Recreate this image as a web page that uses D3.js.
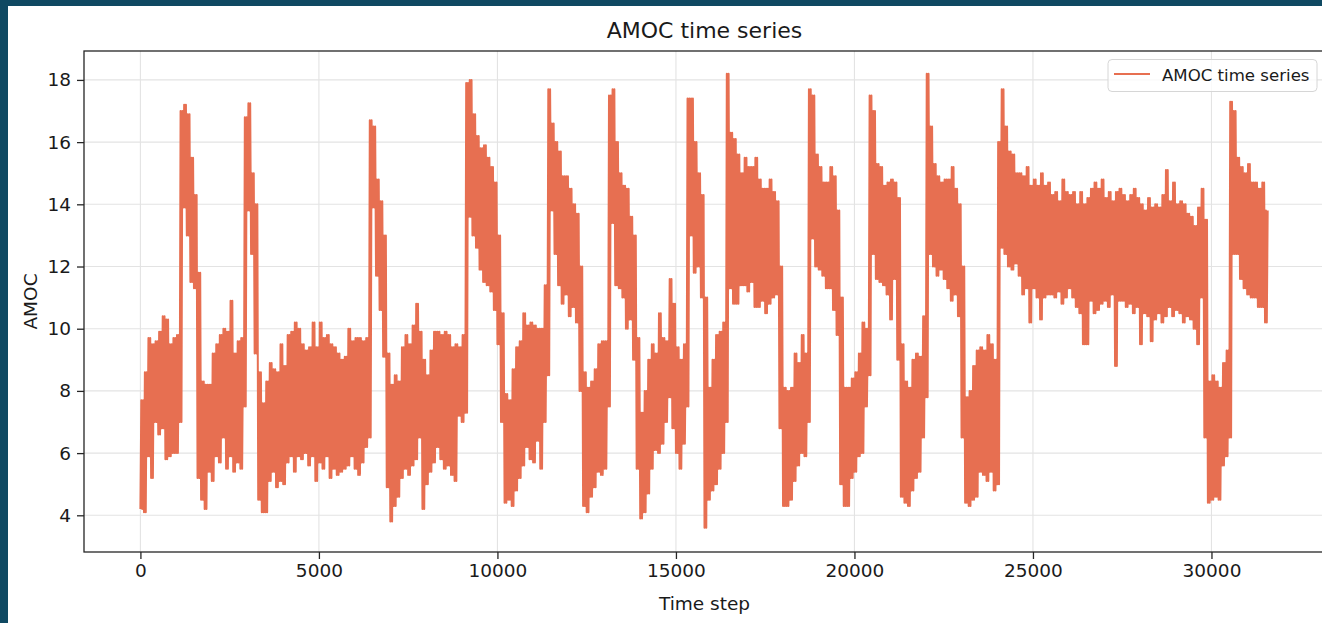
<!DOCTYPE html>
<html>
<head>
<meta charset="utf-8">
<script src="https://cdn.jsdelivr.net/npm/d3@7"></script>
<style>
  html, body { margin: 0; padding: 0; background: #0f4962; }
  svg { display: block; }
  text { font-family: "DejaVu Sans", sans-serif; fill: #1a1a1a; }
</style>
</head>
<body>
<svg id="chart" width="1322" height="623"></svg>
<script>
// AMOC series summarised per block of 100 time steps: lower and upper envelope
const BLOCK = 100;
const amocLow = [
  4.2,4.1,5.9,5.2,7.0,6.6,6.8,5.8,5.9,6.0, 6.0,7.0,13.9,13.0,11.5,11.3,5.2,4.5,4.2,5.4,
  5.1,5.9,5.7,6.5,5.5,5.9,5.4,5.7,5.5,7.5, 13.8,12.4,9.2,4.5,4.1,4.1,5.1,5.4,4.9,5.1,
  5.0,5.7,5.9,5.4,5.9,5.8,6.0,5.6,5.9,5.1, 5.7,5.5,5.9,5.2,5.5,5.3,5.4,5.5,5.6,5.9,
  5.5,5.3,5.7,6.2,6.5,13.9,11.7,10.6,9.1,4.9, 3.8,4.3,4.6,5.2,5.5,5.3,5.6,5.8,6.5,4.2,
  5.0,5.4,5.7,6.2,5.8,5.5,5.6,5.3,5.1,7.2, 7.0,7.3,13.6,13.0,12.6,11.9,11.5,11.4,11.2,10.6,
  9.5,7.0,4.4,4.5,4.3,4.8,5.2,5.6,6.2,5.8, 5.7,6.4,5.5,7.0,8.5,13.8,12.4,11.4,10.8,11.1,
  10.4,10.7,10.2,8.0,4.3,4.1,4.6,4.9,5.4,5.3, 5.5,7.5,13.4,11.4,11.3,11.0,10.0,10.3,9.0,5.5,
  3.9,4.1,4.7,5.5,6.1,6.0,6.3,7.0,7.8,6.8, 6.0,5.5,6.3,7.5,13.0,11.8,12.0,11.0,3.6,4.5,
  4.8,5.0,5.5,6.0,7.0,11.3,10.8,10.8,11.4,11.4, 11.2,11.5,10.7,10.7,10.9,10.5,10.8,11.0,11.1,6.8,
  4.3,4.3,4.5,5.1,5.6,6.0,5.9,7.0,12.9,12.0, 11.9,11.7,11.3,11.3,10.6,9.8,5.0,4.3,4.3,5.2,
  5.4,5.9,6.0,7.5,8.5,12.4,11.6,11.5,11.4,11.1, 10.3,11.6,9.0,4.6,4.4,4.3,4.8,5.2,5.4,6.5,
  7.8,12.4,12.0,11.7,11.9,11.6,11.3,10.9,11.1,10.4, 6.5,4.4,4.3,4.5,4.6,5.4,5.3,5.1,5.4,4.8,
  5.0,12.6,12.4,12.0,11.9,12.1,11.7,11.1,11.3,10.2, 11.3,11.0,10.3,11.0,11.1,11.1,11.0,11.2,10.8,11.0,
  11.3,11.0,10.7,10.5,9.5,9.5,10.9,10.5,10.6,10.8, 10.9,10.7,11.1,8.8,10.9,10.9,10.7,10.8,10.5,10.7,
  9.5,10.5,10.4,9.6,10.3,10.5,10.2,10.4,10.7,10.4, 10.6,10.5,10.2,10.4,10.3,10.0,9.5,11.0,6.5,4.4,
  4.5,4.6,4.5,5.6,5.9,6.5,12.4,12.4,11.6,11.3, 11.1,11.0,11.0,10.7,10.7,10.2
];
const amocHigh = [
  7.7,8.6,9.7,9.5,9.6,9.9,10.4,10.3,9.5,9.7, 9.8,17.0,17.2,16.9,15.5,14.3,11.8,8.3,8.2,8.2,
  9.2,9.5,9.8,10.0,9.9,10.9,9.2,9.6,9.7,16.8, 17.25,15.0,14.0,8.6,7.6,8.3,8.9,8.7,8.6,9.5,
  8.8,9.8,9.9,10.2,10.0,9.5,9.3,9.4,10.2,9.4, 10.2,9.7,9.8,9.5,9.4,9.2,9.0,9.1,10.0,9.6,
  9.7,9.7,9.6,9.7,16.7,16.5,14.8,14.1,13.0,9.2, 8.2,8.5,8.3,9.4,9.8,9.5,10.1,10.8,9.9,9.0,
  8.5,9.3,9.9,9.9,9.8,9.9,9.8,9.4,9.5,9.4, 9.8,17.9,18.0,16.9,16.2,15.8,15.9,15.5,15.2,14.7,
  13.0,10.5,7.9,7.7,8.7,9.4,9.6,10.5,10.1,10.2, 10.1,10.0,10.0,11.4,17.7,16.6,16.0,15.7,14.9,14.9,
  14.5,14.0,13.7,12.0,8.6,8.1,8.3,8.7,9.5,9.6, 9.6,17.5,17.7,16.0,15.0,14.6,14.5,13.6,13.0,9.7,
  7.3,8.0,9.0,9.5,9.2,10.5,9.7,9.6,11.6,10.8, 9.4,9.0,9.5,17.4,17.4,16.0,15.0,14.3,11.0,8.1,
  9.0,9.8,9.9,10.2,18.2,16.3,16.1,15.6,15.0,15.5, 15.2,15.2,15.5,14.8,14.5,14.5,14.8,14.4,14.1,12.0,
  8.1,8.0,8.1,9.2,8.9,9.8,9.2,17.7,17.5,15.6, 15.2,14.7,14.7,15.2,14.9,13.8,11.0,8.1,8.1,8.4,
  8.6,9.2,10.2,10.0,17.5,17.0,15.3,15.2,14.6,14.7, 14.8,14.7,14.2,9.5,8.3,8.1,9.0,9.2,9.1,10.4,
  18.2,16.5,15.3,14.9,14.7,14.8,14.8,15.2,14.5,14.0, 12.0,7.8,8.0,8.8,9.3,9.4,9.3,9.8,9.5,9.0,
  16.0,17.7,16.5,15.7,15.6,15.0,15.0,14.9,15.2,14.6, 14.8,14.6,15.0,14.6,14.7,14.3,14.4,14.1,14.8,14.4,
  14.3,14.4,14.0,14.4,14.0,14.2,14.5,14.7,14.5,14.8, 14.2,14.4,14.1,14.4,14.5,14.3,14.1,14.3,14.5,14.2,
  14.0,13.8,14.2,13.9,14.0,13.9,14.3,15.1,14.1,14.7, 14.0,14.1,14.0,13.7,13.6,13.3,13.9,14.5,13.5,8.3,
  8.5,8.3,8.1,8.9,9.3,17.3,17.0,15.5,15.2,15.0, 15.3,14.7,14.7,14.5,14.7,13.8
];
const xTicks = [0, 5000, 10000, 15000, 20000, 25000, 30000];
const yTicks = [4, 6, 8, 10, 12, 14, 16, 18];
const seriesName = "AMOC time series";

// Each block is traced as a dense zig-zag between its two envelope values
const points = [];
amocLow.forEach((lo, i) => {
  const t = i * BLOCK, hi = amocHigh[i];
  points.push([t, lo], [t + BLOCK / 4, hi], [t + BLOCK / 2, lo], [t + 3 * BLOCK / 4, hi]);
});

const svg = d3.select("#chart");
// white canvas inside the dark frame
svg.append("rect").attr("x", 8).attr("y", 6).attr("width", 1314).attr("height", 617).attr("fill", "#ffffff");

const L = 84, R = 1325, T = 51, B = 552;
const x = d3.scaleLinear().domain([-1580, 33180]).range([L, R]);
const y = d3.scaleLinear().domain([2.82, 18.93]).range([B, T]);

// grid
const grid = svg.append("g").attr("stroke", "#e3e3e3").attr("stroke-width", 1.1);
xTicks.forEach(v => grid.append("line").attr("x1", x(v)).attr("x2", x(v)).attr("y1", T).attr("y2", B));
yTicks.forEach(v => grid.append("line").attr("x1", L).attr("x2", R).attr("y1", y(v)).attr("y2", y(v)));

// series
const line = d3.line().x(d => x(d[0])).y(d => y(d[1]));
svg.append("path").datum(points).attr("d", line)
  .attr("fill", "none").attr("stroke", "#e76f51").attr("stroke-width", 2)
  .attr("stroke-linejoin", "round");

// axes
const xAxis = d3.axisBottom(x).tickValues(xTicks).tickFormat(d3.format("d")).tickSize(7).tickPadding(5);
const yAxis = d3.axisLeft(y).tickValues(yTicks).tickFormat(d3.format("d")).tickSize(7).tickPadding(6);
const gx = svg.append("g").attr("transform", `translate(0,${B})`).call(xAxis);
const gy = svg.append("g").attr("transform", `translate(${L},0)`).call(yAxis);
[gx, gy].forEach(g => {
  g.select(".domain").remove();
  g.selectAll(".tick line").attr("stroke", "#262626").attr("stroke-width", 1.3);
  g.selectAll(".tick text").attr("font-size", 18.5).attr("font-family", "DejaVu Sans").attr("fill", "#1a1a1a");
});

// frame
svg.append("rect").attr("x", L).attr("y", T).attr("width", R - L).attr("height", B - T)
  .attr("fill", "none").attr("stroke", "#262626").attr("stroke-width", 1.3);

// titles
svg.append("text").attr("x", (L + R) / 2).attr("y", 38).attr("text-anchor", "middle")
  .attr("font-size", 22).text("AMOC time series");
svg.append("text").attr("x", (L + R) / 2).attr("y", 610).attr("text-anchor", "middle")
  .attr("font-size", 18.5).text("Time step");
svg.append("text").attr("transform", `translate(37,${(T + B) / 2}) rotate(-90)`).attr("text-anchor", "middle")
  .attr("font-size", 18.5).text("AMOC");

// legend
const lg = svg.append("g");
lg.append("rect").attr("x", 1108).attr("y", 59.5).attr("width", 209).attr("height", 32).attr("rx", 4)
  .attr("fill", "#ffffff").attr("fill-opacity", 0.8).attr("stroke", "#d6d6d6").attr("stroke-width", 1);
lg.append("line").attr("x1", 1114).attr("x2", 1150).attr("y1", 74).attr("y2", 74)
  .attr("stroke", "#e76f51").attr("stroke-width", 2);
lg.append("text").attr("x", 1162).attr("y", 80.5).attr("font-size", 16.6).text(seriesName);
</script>
</body>
</html>
